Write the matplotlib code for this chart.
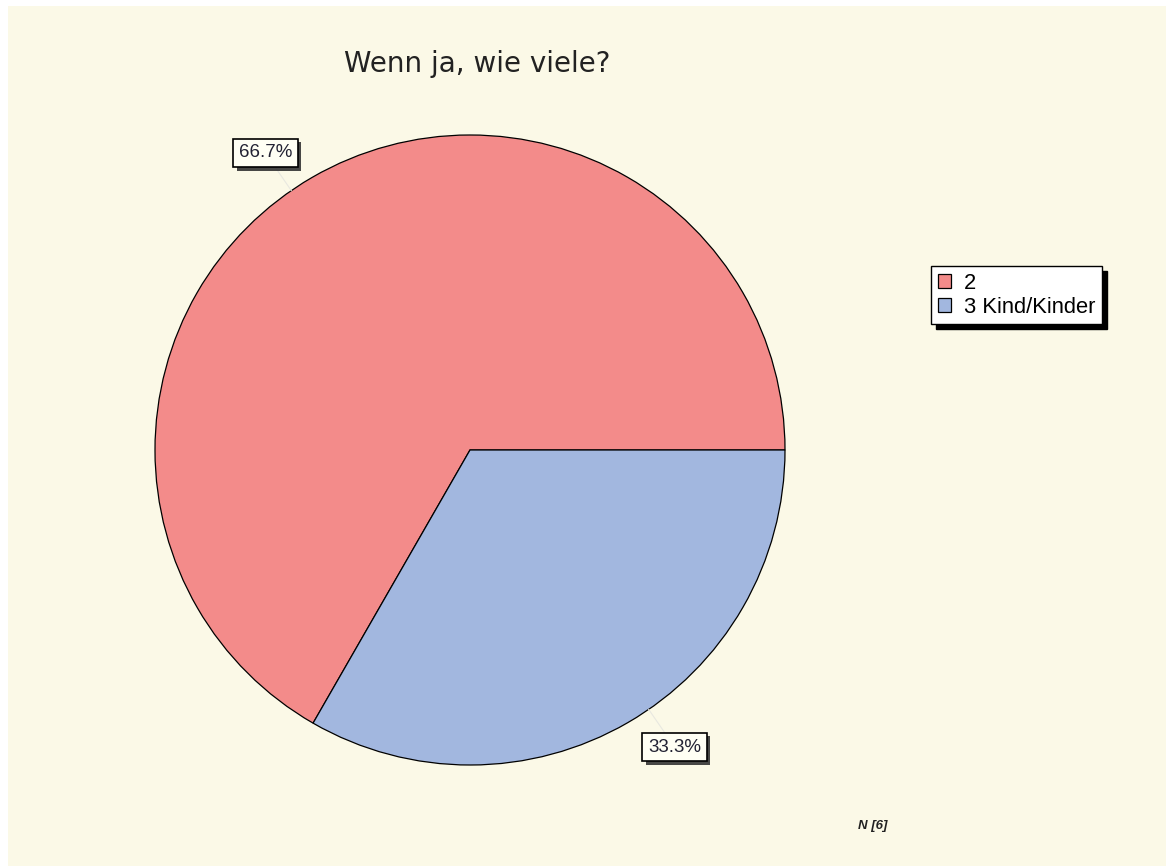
import matplotlib.pyplot as plt
import matplotlib.patheffects as pe
from matplotlib.patches import Rectangle
import numpy as np

# Anzahl der Kinder
labels = ['2', '3 Kind/Kinder']
anteile = [66.7, 33.3]
farben = ['#F38B8A', '#A2B7DF']
titel = 'Wenn ja, wie viele?'
n_text = 'N [6]'

W, H = 1166, 866
fig = plt.figure(figsize=(W / 100, H / 100), dpi=100, facecolor='white')

# Hintergrundflaeche
fig.patches.append(Rectangle((8 / W, 0), 1 - 8 / W, 1 - 6 / H,
                             transform=fig.transFigure, facecolor='#FBF9E7',
                             edgecolor='none', zorder=-5))

ax = fig.add_axes([155 / W, 101 / H, 630 / W, 630 / H])
ax.set_zorder(2)
ax.set_facecolor('none')
wedges, _ = ax.pie(anteile, colors=farben, startangle=0, counterclock=True,
                   wedgeprops=dict(edgecolor='black', linewidth=0.9))
ax.set_xlim(-1, 1)
ax.set_ylim(-1, 1)
ax.set_aspect('equal')
ax.axis('off')

# Prozentwerte mit Kasten und Schatten
for w, wert in zip(wedges, anteile):
    mitte = np.deg2rad((w.theta1 + w.theta2) / 2 + 4.5)
    x, y = 1.145 * np.cos(mitte), 1.145 * np.sin(mitte)
    ax.plot([np.cos(mitte) * 1.0, x * 0.95], [np.sin(mitte) * 1.0, y * 0.95],
            color='#e8e8e0', lw=0.8, zorder=1, clip_on=False)
    t = ax.text(x, y, f'{wert:.1f}%', ha='center', va='center', fontsize=13.5,
                family='Liberation Sans', color='#222233',
                bbox=dict(boxstyle='square,pad=0.3', facecolor='#FFFFF4',
                          edgecolor='black', linewidth=1.2), zorder=5)
    t.get_bbox_patch().set_path_effects([
        pe.SimplePatchShadow(offset=(2.5, -2.5), shadow_rgbFace='#333333', alpha=0.9),
        pe.Normal()])

fig.text(477 / W, 1 - 64 / H, titel, ha='center', va='center',
         fontsize=20, family='DejaVu Sans', color='#222222')

leg = fig.legend(wedges, labels, loc='upper left', bbox_to_anchor=(931 / W, 1 - 266 / H),
                 frameon=True, fancybox=False, edgecolor='black', facecolor='white',
                 framealpha=1, borderaxespad=0, borderpad=0.3, handlelength=0.6,
                 handleheight=0.6, handletextpad=0.6, labelspacing=0.15,
                 prop=dict(family='Liberation Sans', size=15.8),
                 shadow=dict(color='black', alpha=1, ox=3.5, oy=-3.5))
leg.get_frame().set_linewidth(1.0)
for h in leg.legend_handles:
    h.set_edgecolor('black')
    h.set_linewidth(0.9)

fig.text(873 / W, 1 - 826 / H, n_text, ha='center', va='center', fontsize=9.5,
         family='Liberation Sans', style='italic', weight='bold', color='#222222')

fig.savefig('out.png', dpi=100, facecolor='white')
